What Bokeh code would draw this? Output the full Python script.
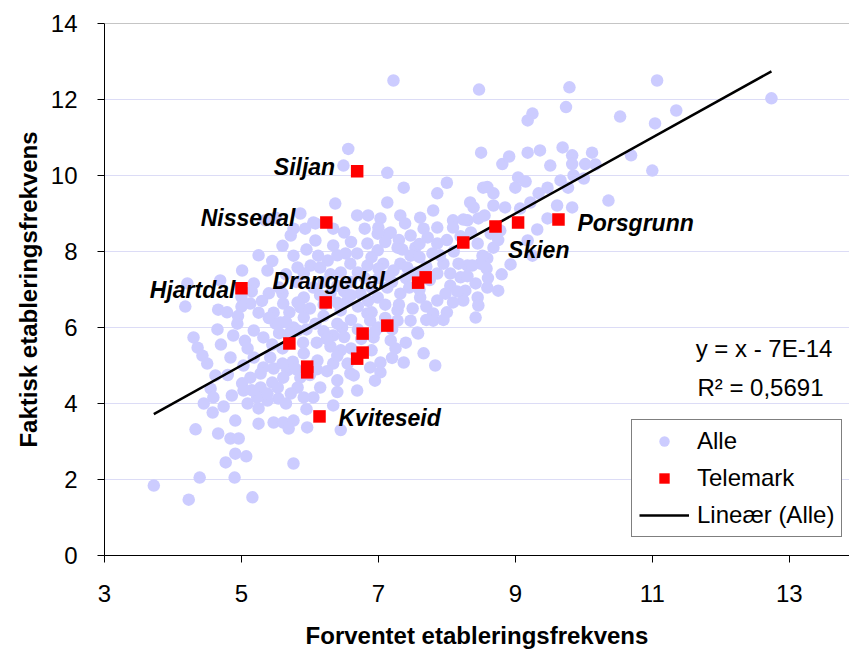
from bokeh.plotting import figure
from bokeh.models import Label, Legend, LegendItem, Span, Range1d
from bokeh.embed import file_html
from bokeh.resources import INLINE

# Alle kommuner: (forventet, faktisk) etableringsfrekvens
alle_xy = [
    # y > 11
    (7.22, 12.50), (8.47, 12.26), (9.79, 12.32), (11.07, 12.50), (12.74, 12.03), (9.74, 11.80),
    (9.25, 11.63), (9.18, 11.45), (10.53, 11.55), (11.35, 11.71), (11.04, 11.37),
    # 10 - 11
    (6.56, 10.70), (6.49, 10.26), (7.13, 10.07), (8.50, 10.60), (8.81, 10.30), (8.91, 10.50),
    (9.18, 10.60), (9.36, 10.66), (9.69, 10.74), (9.83, 10.53), (10.12, 10.60), (9.51, 10.26),
    (9.83, 10.30), (10.02, 10.30), (10.17, 10.29), (10.69, 10.53), (11.00, 10.13), (9.04, 9.95),
    (9.15, 9.84), (9.66, 9.87), (9.85, 10.00), (10.00, 9.92),
    # 9 - 10
    (7.37, 9.68), (8.00, 9.81), (7.86, 9.53), (6.37, 9.26), (7.13, 9.29), (8.53, 9.68),
    (8.34, 9.29), (8.59, 9.70), (9.00, 9.68), (9.47, 9.68), (9.77, 9.68), (8.68, 9.53),
    (9.34, 9.53), (10.36, 9.34), (8.39, 9.16), (8.68, 9.21), (8.85, 9.16), (9.07, 9.13),
    (9.22, 9.29), (9.61, 9.21), (9.83, 9.16), (5.86, 9.00), (7.80, 9.08),
    # 8.4 - 9
    (6.69, 8.95), (6.85, 8.95), (7.03, 8.87), (7.32, 8.95), (7.61, 8.89), (8.09, 8.82),
    (8.30, 8.82), (8.46, 8.87), (8.24, 8.84), (9.47, 8.87), (9.32, 8.58), (8.64, 8.47),
    (8.78, 8.55), (5.35, 8.82), (5.50, 8.89), (5.93, 8.60), (6.08, 8.74), (6.34, 8.60),
    (7.00, 8.63), (7.15, 8.47), (7.39, 8.74), (7.47, 8.42), (7.66, 8.60), (7.72, 8.37),
    (7.86, 8.63), (8.09, 8.63), (5.76, 8.60), (6.05, 8.76), (6.99, 8.47), (7.18, 8.50),
    (5.72, 8.42), (6.80, 8.60), (6.50, 8.50), (8.55, 8.95), (8.35, 8.50),
    # 7.4 - 8.4
    (9.18, 8.29), (8.45, 8.21), (8.68, 8.10), (9.25, 7.89), (8.59, 7.82), (8.93, 7.66),
    (8.30, 7.63), (8.49, 7.68), (6.08, 8.29), (6.34, 8.16), (6.84, 8.21), (7.28, 8.10),
    (7.54, 8.10), (7.86, 8.21), (5.76, 7.89), (6.12, 7.89), (6.52, 7.95), (6.69, 7.95),
    (6.99, 8.03), (7.47, 7.89), (7.79, 7.95), (5.82, 7.58), (6.01, 7.63), (6.26, 7.76),
    (6.59, 7.68), (6.84, 7.63), (7.07, 7.68), (7.32, 7.68), (7.95, 7.68), (8.17, 7.68),
    (8.37, 7.63), (8.52, 7.89), (5.91, 7.42), (6.45, 7.45), (7.86, 7.42), (5.01, 7.50),
    (5.38, 7.50), (6.15, 7.58), (7.22, 7.50), (7.42, 7.58), (8.05, 7.42), (8.58, 7.55),
    (7.70, 7.60), (7.90, 7.90), (8.10, 8.00), (8.20, 8.40), (8.00, 8.30), (7.60, 8.20),
    (7.30, 8.30), (8.75, 8.30), (7.60, 7.85), (7.35, 8.05), (7.10, 8.25), (6.60, 8.25),
    (6.40, 7.90), (6.90, 7.85), (5.95, 8.05), (5.60, 8.15), (5.45, 7.75), (5.25, 7.90),
    (6.30, 7.40), (6.70, 7.45), (7.00, 7.55), (7.55, 7.45), (5.65, 7.40),
    # 6.4 - 7.4
    (8.42, 7.16), (8.20, 7.32), (8.05, 7.10), (7.98, 6.89), (7.86, 6.71), (8.24, 6.71),
    (8.45, 6.79), (7.61, 6.79), (7.32, 6.89), (7.13, 7.05), (6.99, 6.79), (6.74, 6.89),
    (6.55, 6.71), (5.91, 6.79), (4.21, 7.16), (4.69, 7.24), (5.18, 7.16), (8.59, 7.05),
    (8.75, 6.97), (8.27, 6.97), (8.46, 6.58), (8.09, 6.66), (4.18, 6.55), (4.66, 6.47),
    (4.79, 6.40), (5.13, 6.63), (5.25, 6.39), (5.47, 6.39), (5.61, 6.63), (5.82, 6.66),
    (5.86, 6.53), (6.45, 6.45), (6.84, 6.37), (7.28, 6.45), (7.80, 6.37), (6.20, 7.20),
    (6.40, 7.10), (6.60, 7.20), (6.80, 7.30), (7.00, 7.30), (7.20, 7.20), (6.30, 6.90),
    (6.50, 6.95), (6.90, 7.05), (7.10, 6.60), (7.30, 6.60), (6.20, 6.60), (6.00, 6.50),
    (6.70, 6.55), (6.90, 6.40), (5.60, 6.90), (5.40, 6.90), (5.30, 6.70), (5.00, 6.80),
    (5.00, 6.55), (7.60, 7.00), (7.40, 7.30), (6.40, 6.65), (7.50, 6.50), (8.60, 7.30),
    (8.80, 7.40), (6.85, 6.70), (6.60, 6.85), (6.15, 6.85), (6.05, 7.05), (5.80, 7.20),
    (5.55, 7.05), (7.15, 7.35), (7.45, 7.05), (7.75, 7.25), (7.70, 6.55), (8.15, 6.95),
    (8.30, 7.35), (5.15, 6.95), (4.95, 6.30), (7.10, 6.25),
    # 5.4 - 6.4
    (8.42, 6.26), (7.47, 6.18), (7.57, 5.87), (6.88, 6.18), (6.47, 6.00), (6.08, 6.10),
    (6.34, 5.79), (5.76, 6.00), (7.28, 6.18), (7.80, 6.18), (7.18, 5.66), (6.93, 5.74),
    (5.91, 6.26), (5.57, 6.13), (5.18, 5.92), (5.32, 5.74), (5.82, 5.92), (4.94, 6.10),
    (4.88, 5.79), (4.30, 5.74), (4.36, 5.47), (7.58, 5.84), (6.60, 6.20), (6.20, 6.30),
    (7.00, 6.00), (7.20, 5.95), (6.70, 5.95), (6.50, 5.75), (6.30, 5.50), (6.60, 5.45),
    (6.90, 5.40), (6.10, 5.60), (5.90, 5.60), (5.60, 5.45), (5.45, 5.55), (5.70, 5.85),
    (5.50, 6.10), (5.70, 6.40), (7.70, 6.20), (8.00, 6.40), (7.40, 5.60), (5.55, 5.85),
    (5.40, 6.25), (5.65, 6.15), (5.95, 5.95), (6.20, 5.90), (6.40, 6.10), (6.25, 5.70),
    (6.45, 5.40), (6.75, 5.70), (6.95, 5.90), (7.25, 5.45), (7.95, 6.20), (5.05, 5.65),
    (4.65, 5.95), (4.70, 5.55),
    # 4.4 - 5.4
    (7.66, 5.32), (7.37, 5.08), (7.83, 5.00), (6.88, 4.95), (7.03, 4.82), (6.59, 4.79),
    (6.40, 4.61), (5.91, 5.32), (4.43, 5.26), (4.50, 5.05), (4.62, 4.74), (4.84, 5.21),
    (5.03, 5.00), (5.13, 4.68), (5.09, 5.45), (5.18, 5.21), (5.42, 5.21), (5.32, 4.95),
    (5.47, 4.92), (5.67, 4.87), (6.11, 5.13), (6.34, 5.05), (7.03, 5.08), (5.28, 4.79),
    (5.61, 4.68), (5.86, 4.68), (6.64, 4.74), (5.01, 4.53), (6.10, 4.90), (5.75, 5.10),
    (6.40, 5.25), (6.00, 4.75), (5.80, 4.90), (5.60, 5.05), (6.25, 4.85), (6.55, 5.05),
    (7.20, 5.20), (6.95, 4.60), (5.45, 4.55), (4.80, 4.75),
    # 3.4 - 4.4
    (6.69, 4.34), (6.15, 4.42), (6.05, 4.16), (6.34, 3.95), (4.55, 4.39), (4.45, 4.00),
    (4.58, 3.76), (4.74, 3.92), (4.86, 4.21), (5.03, 4.34), (5.09, 4.00), (5.25, 3.87),
    (4.91, 3.55), (5.54, 4.13), (5.38, 4.08), (5.28, 4.42), (5.53, 4.42), (5.82, 4.42),
    (4.59, 4.16), (5.23, 4.16), (5.38, 4.26), (5.72, 4.26), (5.91, 4.16), (5.47, 3.50),
    (5.25, 3.47), (5.61, 3.50), (5.76, 3.55), (5.15, 4.35), (5.95, 3.85), (5.65, 4.00),
    (6.40, 4.30),
    # < 3.4
    (6.45, 3.30), (5.96, 3.37), (5.69, 3.34), (4.33, 3.32), (4.66, 3.21), (4.84, 3.08),
    (4.96, 3.08), (4.91, 2.68), (4.77, 2.45), (5.07, 2.61), (4.39, 2.05), (4.90, 2.05),
    (3.72, 1.84), (4.23, 1.47), (5.16, 1.53), (5.76, 2.42),
]
alle_x = [p[0] for p in alle_xy]
alle_y = [p[1] for p in alle_xy]

# Telemark-kommunene
telemark_navn = ["Siljan", "Nissedal", "Hjartdal", "Drangedal", "", "", "", "", "",
                 "", "", "Kviteseid", "", "", "", "", "Skien", "Porsgrunn"]
telemark_x = [6.69, 6.24, 5.00, 6.23, 5.70, 5.96, 5.96, 6.77, 6.77,
              6.69, 7.13, 6.14, 7.58, 7.69, 8.24, 8.71, 9.04, 9.63]
telemark_y = [10.11, 8.76, 7.03, 6.66, 5.58, 4.97, 4.82, 5.84, 5.34,
              5.18, 6.05, 3.66, 7.18, 7.32, 8.24, 8.66, 8.76, 8.84]

# lineær trend for alle: y = x - 7E-14
stigning = 1.0
konstant = -7e-14
r2_tekst = "R\u00b2 = 0,5691"
likning_tekst = "y = x - 7E-14"

x_ticks = [3, 5, 7, 9, 11, 13]
y_ticks = [0, 2, 4, 6, 8, 10, 12, 14]

FONT = "Liberation Sans"

p = figure(width=849, height=652, output_backend="svg", toolbar_location=None,
           x_range=Range1d(3, 13.88), y_range=Range1d(0, 14),
           min_border_left=104, min_border_right=0, min_border_top=23, min_border_bottom=97)
p.outline_line_color = None
p.background_fill_color = "white"
p.border_fill_color = "white"

p.xgrid.grid_line_color = None
p.ygrid.grid_line_color = "#DCDCF6"
p.ygrid.grid_line_width = 1
p.add_layout(Span(location=14, dimension="width", line_color="#8C8C8C", line_width=1))

p.xaxis.ticker = x_ticks
p.yaxis.ticker = y_ticks
for ax in (p.xaxis, p.yaxis):
    ax.axis_line_color = "black"
    ax.axis_line_width = 1
    ax.major_tick_line_color = "black"
    ax.major_tick_in = 0
    ax.major_tick_out = 7
    ax.minor_tick_line_color = None
    ax.major_label_text_font = FONT
    ax.major_label_text_font_size = "24px"
    ax.major_label_text_color = "black"
    ax.axis_label_text_font = FONT
    ax.axis_label_text_font_size = "24px"
    ax.axis_label_text_font_style = "bold"
    ax.axis_label_text_color = "black"

p.xaxis.axis_label = "Forventet etableringsfrekvens"
p.yaxis.axis_label = "Faktisk etableringsfrekvens"
p.xaxis.major_label_standoff = 22
p.yaxis.major_label_standoff = 20
p.xaxis.axis_label_standoff = 17
p.yaxis.axis_label_standoff = 6

r_alle = p.scatter(alle_x, alle_y, marker="circle", size=12.5,
                   fill_color="#CCCCFF", line_color=None)

lx = [min(alle_x), max(alle_x)]
ly = [stigning * v + konstant for v in lx]
r_lin = p.line(lx, ly, line_color="black", line_width=2.5)

r_tm = p.scatter(telemark_x, telemark_y, marker="square", size=12.5,
                 fill_color="#FF0000", line_color=None)

# plassering av navnelapper (piksler i forhold til punktet)
lapp_plass = {
    "Siljan": (-22, 4, "right"),
    "Nissedal": (-31, 5, "right"),
    "Hjartdal": (-6, -2, "right"),
    "Drangedal": (3, 21, "center"),
    "Kviteseid": (19, -2, "left"),
    "Skien": (-10, -27, "left"),
    "Porsgrunn": (19, -3, "left"),
}
for navn, x, y in zip(telemark_navn, telemark_x, telemark_y):
    if not navn:
        continue
    dx, dy, align = lapp_plass[navn]
    p.add_layout(Label(x=x, y=y, text=navn, x_offset=dx, y_offset=dy,
                       text_align=align, text_baseline="middle",
                       text_font=FONT, text_font_size="23px",
                       text_font_style="bold italic", text_color="black"))

p.add_layout(Label(x=13.63, y=5.45, text=likning_tekst, text_align="right",
                   text_baseline="middle", text_font=FONT, text_font_size="24px",
                   text_color="black"))
p.add_layout(Label(x=13.50, y=4.42, text=r2_tekst, text_align="right",
                   text_baseline="middle", text_font=FONT, text_font_size="24px",
                   text_color="black"))

legend = Legend(items=[LegendItem(label="Alle", renderers=[r_alle]),
                       LegendItem(label="Telemark", renderers=[r_tm]),
                       LegendItem(label="Line\u00e6r (Alle)", renderers=[r_lin])],
                location=(527, 18))
legend.label_text_font = FONT
legend.label_text_font_size = "24px"
legend.label_text_color = "black"
legend.border_line_color = "black"
legend.border_line_width = 1
legend.background_fill_color = "white"
legend.background_fill_alpha = 1
legend.padding = 7
legend.spacing = 9
legend.margin = 0
legend.glyph_width = 50
legend.glyph_height = 26
legend.label_height = 26
legend.label_standoff = 8
p.add_layout(legend)

open("out.html", "w").write(file_html(p, INLINE))
